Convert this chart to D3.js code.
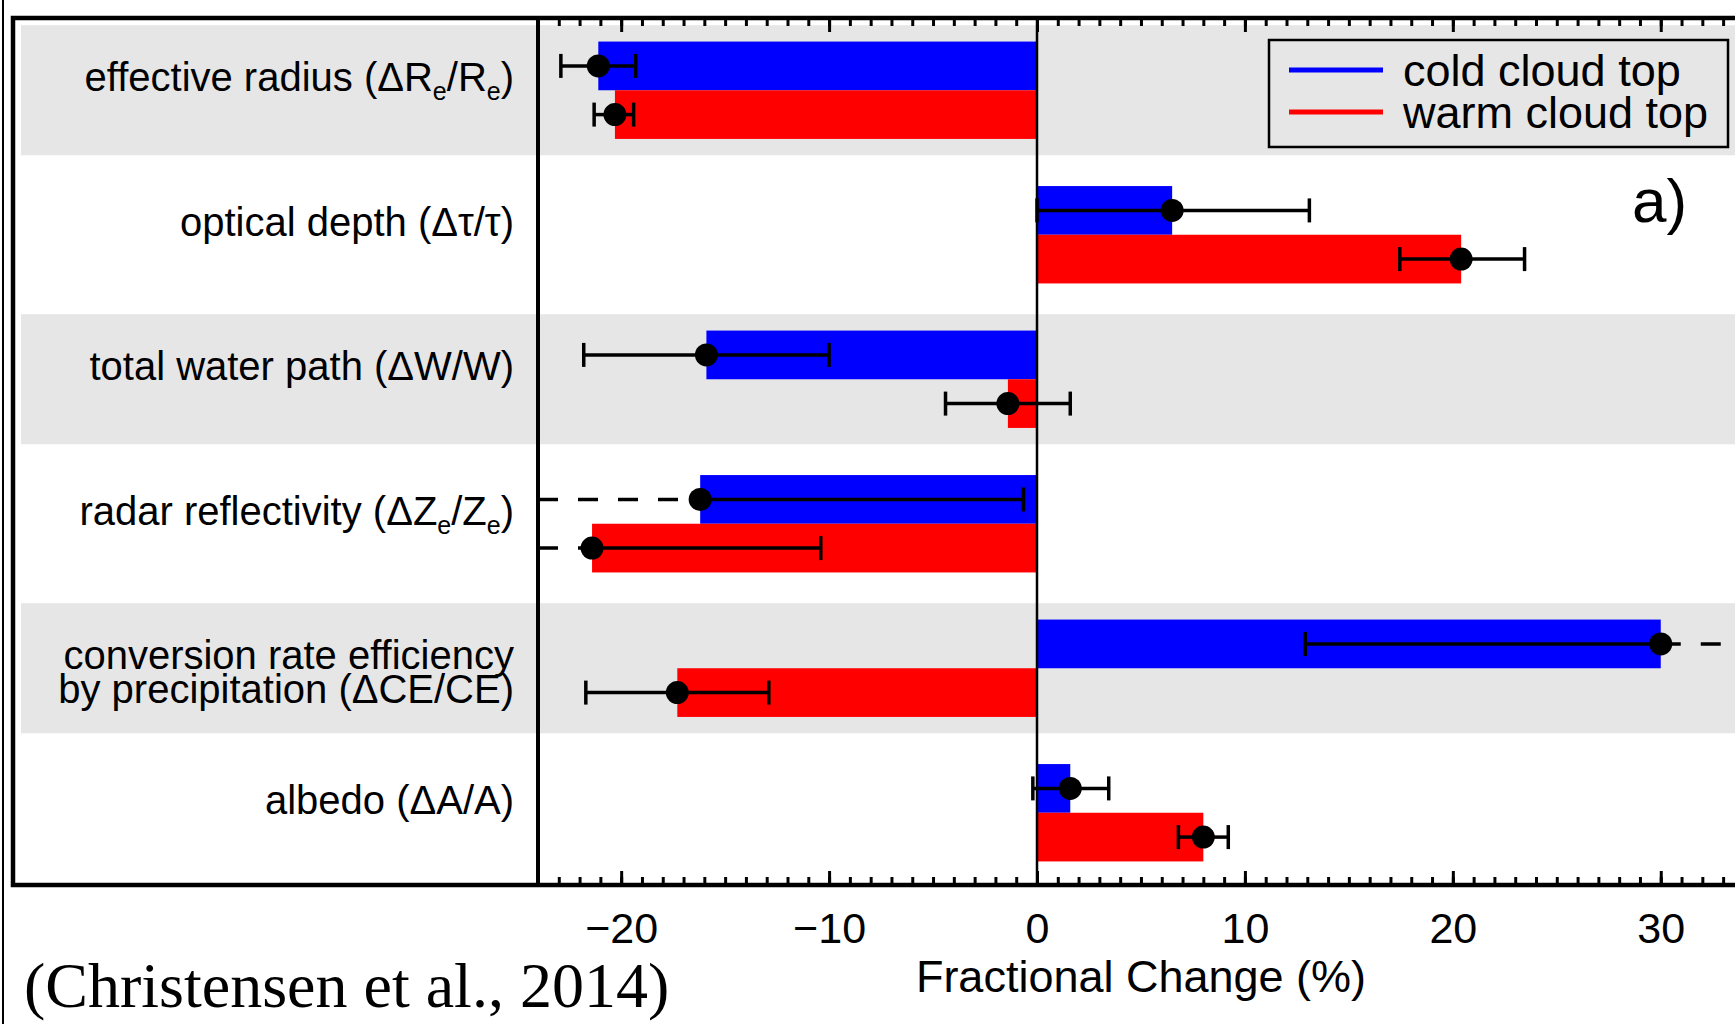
<!DOCTYPE html>
<html>
<head>
<meta charset="utf-8">
<script src="https://cdn.jsdelivr.net/npm/d3@7"></script>
<style>
body { margin: 0; background: #fff; }
svg { display: block; }
text { font-family: "Liberation Sans", Arial, Helvetica, sans-serif; fill: #000; }
</style>
</head>
<body>
<div class="chart"></div>
<script>
// labels: "_x" marks a one-letter subscript, "\n" a line break
var categories = [
  "effective radius (\u0394R_e/R_e)",
  "optical depth (\u0394\u03c4/\u03c4)",
  "total water path (\u0394W/W)",
  "radar reflectivity (\u0394Z_e/Z_e)",
  "conversion rate efficiency\nby precipitation (\u0394CE/CE)",
  "albedo (\u0394A/A)"
];
var series = ["cold cloud top", "warm cloud top"];
var seriesColors = ["#0000ff", "#ff0000"];

var coldValues = [-21.1, 6.5, -15.9, -16.2, 30.0, 1.6];
var coldLow    = [-22.9, 0.0, -21.8, -30, 12.9, -0.2];
var coldHigh   = [-19.3, 13.1, -10.0, -0.65, 40, 3.45];

var warmValues = [-20.3, 20.4, -1.4, -21.4, -17.3, 8.0];
var warmLow    = [-21.3, 17.45, -4.4, -30, -21.7, 6.8];
var warmHigh   = [-19.4, 23.45, 1.6, -10.4, -12.9, 9.2];

var xTicks = [-20, -10, 0, 10, 20, 30];
var xMinorTicks = d3.range(-23, 37, 1);

var svgWidth = 1735;
var svgHeight = 1024;

var box = { left: 13, top: 18, bottom: 885 };
var plotLeft = 538;
var xMin = -24, xMax = 36;

var svg = d3.select(".chart")
  .append("svg")
  .attr("width", svgWidth)
  .attr("height", svgHeight);

var x = d3.scaleLinear()
  .domain([xMin, xMax])
  .range([plotLeft, plotLeft + (xMax - xMin) * 499 / 24]);

var y = d3.scaleBand()
  .domain(categories)
  .range([box.top, box.bottom]);

var ySub = d3.scaleBand()
  .domain(series)
  .range([0, y.step()])
  .paddingOuter(0.484);

var rows = categories.map(function(c, i) {
  return {
    cat: c,
    items: [
      { s: series[0], v: coldValues[i], lo: coldLow[i], hi: coldHigh[i] },
      { s: series[1], v: warmValues[i], lo: warmLow[i], hi: warmHigh[i] }
    ]
  };
});

// outer slide border line
svg.append("line")
  .attr("x1", 3).attr("x2", 3)
  .attr("y1", 0).attr("y2", svgHeight)
  .attr("stroke", "#000")
  .attr("stroke-width", 2);

// alternating grey bands
svg.selectAll(".band")
  .data(categories.filter(function(d, i) { return i % 2 === 0; }))
  .enter()
  .append("rect")
  .attr("class", "band")
  .attr("x", box.left + 8)
  .attr("width", svgWidth)
  .attr("y", function(d) { return y(d) + y.step() * 0.05; })
  .attr("height", y.step() * 0.9)
  .attr("fill", "#e6e6e6");

// bars
var rowGroups = svg.selectAll(".row")
  .data(rows)
  .enter()
  .append("g")
  .attr("class", "row")
  .attr("transform", function(d) { return "translate(0," + y(d.cat) + ")"; });

rowGroups.selectAll("rect")
  .data(function(d) { return d.items; })
  .enter()
  .append("rect")
  .attr("x", function(d) { return x(Math.min(0, d.v)); })
  .attr("width", function(d) { return Math.abs(x(d.v) - x(0)); })
  .attr("y", function(d) { return ySub(d.s); })
  .attr("height", ySub.bandwidth())
  .attr("fill", function(d, i) { return seriesColors[i]; });

// zero line
svg.append("line")
  .attr("x1", x(0)).attr("x2", x(0))
  .attr("y1", box.top).attr("y2", box.bottom)
  .attr("stroke", "#000")
  .attr("stroke-width", 2.5);

// error bars, dashed where the bound runs off the axis
var capHalf = 12;
rowGroups.each(function(row) {
  var g = d3.select(this);
  row.items.forEach(function(d) {
    var cy = ySub(d.s) + ySub.bandwidth() / 2;
    var sides = [
      { end: d.lo, out: d.lo < xMin, edge: xMin },
      { end: d.hi, out: d.hi > xMax, edge: xMax }
    ];
    sides.forEach(function(sd) {
      var e = sd.out ? sd.edge : sd.end;
      g.append("line")
        .attr("x1", x(Math.min(e, d.v)))
        .attr("x2", x(Math.max(e, d.v)))
        .attr("y1", cy).attr("y2", cy)
        .attr("stroke", "#000")
        .attr("stroke-width", 3.5)
        .attr("stroke-dasharray", sd.out ? "20 20" : null);
      if (!sd.out) {
        g.append("line")
          .attr("x1", x(sd.end)).attr("x2", x(sd.end))
          .attr("y1", cy - capHalf).attr("y2", cy + capHalf)
          .attr("stroke", "#000")
          .attr("stroke-width", 3.5);
      }
    });
    g.append("circle")
      .attr("cx", x(d.v))
      .attr("cy", cy)
      .attr("r", 11.5)
      .attr("fill", "#000");
  });
});

// left plot axis line
svg.append("line")
  .attr("x1", plotLeft).attr("x2", plotLeft)
  .attr("y1", box.top).attr("y2", box.bottom)
  .attr("stroke", "#000")
  .attr("stroke-width", 4);

// tick marks, top and bottom, pointing inward
function tickAxis(axisFn, yPos, values, size) {
  var g = svg.append("g")
    .attr("transform", "translate(0," + yPos + ")")
    .call(axisFn(x).tickValues(values).tickSize(size).tickFormat(""));
  g.select(".domain").remove();
  g.selectAll("text").remove();
  g.selectAll("line").attr("stroke-width", 3);
}
tickAxis(d3.axisBottom, box.top, xMinorTicks, 8);
tickAxis(d3.axisBottom, box.top, xTicks, 14);
tickAxis(d3.axisTop, box.bottom, xMinorTicks, 8);
tickAxis(d3.axisTop, box.bottom, xTicks, 14);

// outer box
svg.append("rect")
  .attr("x", box.left)
  .attr("y", box.top)
  .attr("width", svgWidth + 100)
  .attr("height", box.bottom - box.top)
  .attr("fill", "none")
  .attr("stroke", "#000")
  .attr("stroke-width", 4.5);

// tick labels
var bottomAxis = svg.append("g")
  .attr("transform", "translate(0," + box.bottom + ")")
  .call(d3.axisBottom(x).tickValues(xTicks).tickSize(0).tickPadding(27));
bottomAxis.select(".domain").remove();
bottomAxis.selectAll("text")
  .style("font-family", "'Liberation Sans', Arial, sans-serif")
  .style("font-size", "43px")
  .attr("fill", "#000");

// axis title
svg.append("text")
  .attr("x", 1141)
  .attr("y", 992)
  .attr("text-anchor", "middle")
  .style("font-size", "45px")
  .text("Fractional Change (%)");

// category labels with subscripts
function addRich(textSel, str) {
  var parts = str.split(/_(\w)/);
  var shift = 0;
  parts.forEach(function(p, i) {
    if (!p) return;
    var sub = i % 2 === 1;
    var target = sub ? 9 : 0;
    textSel.append("tspan")
      .attr("dy", target - shift)
      .style("font-size", sub ? "25px" : null)
      .text(p);
    shift = target;
  });
}

categories.forEach(function(c) {
  var lines = c.split("\n");
  lines.forEach(function(line, li) {
    var t = svg.append("text")
      .attr("x", 514)
      .attr("y", y(c) + y.step() / 2 + 1 + li * 34)
      .attr("text-anchor", "end")
      .style("font-size", "40px");
    addRich(t, line);
  });
});

// legend
var legend = svg.append("g");
legend.append("rect")
  .attr("x", 1269).attr("y", 40)
  .attr("width", 459).attr("height", 107)
  .attr("fill", "#e6e6e6")
  .attr("stroke", "#000")
  .attr("stroke-width", 2.5);
series.forEach(function(s, i) {
  legend.append("line")
    .attr("x1", 1289).attr("x2", 1383)
    .attr("y1", 70 + i * 42).attr("y2", 70 + i * 42)
    .attr("stroke", seriesColors[i])
    .attr("stroke-width", 5);
  legend.append("text")
    .attr("x", 1403)
    .attr("y", 86 + i * 42)
    .style("font-size", "45px")
    .text(s);
});

// panel letter
svg.append("text")
  .attr("x", 1632)
  .attr("y", 222)
  .style("font-size", "62px")
  .text("a)");

// citation
svg.append("text")
  .attr("x", 24)
  .attr("y", 1007)
  .style("font-family", "'Liberation Serif', 'Times New Roman', serif")
  .style("font-size", "64px")
  .text("(Christensen et al., 2014)");
</script>
</body>
</html>
